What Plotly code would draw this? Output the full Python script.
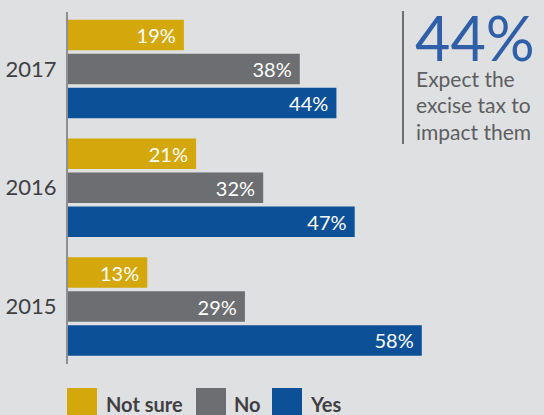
import plotly.graph_objects as go

# Survey responses by year (percent)
years = ["2015", "2016", "2017"]
not_sure = [13, 21, 19]
no = [29, 32, 38]
yes = [58, 47, 44]

series_names = ["Not sure", "No", "Yes"]
series_colors = ["#d4a70b", "#6d6e71", "#0c5198"]

headline_value = "44%"
headline_lines = ["Expect the", "excise tax to", "impact them"]

W, H = 544, 415
L, R, T, B = 68, 0, 12, 51
PW, PH = W - L - R, H - T - B
FONT = "Lato, 'Open Sans', sans-serif"


def px_x(px):
    return (px - L) / PW


def px_y(py):
    return (H - B - py) / PH


fig = go.Figure()

# Plotly stacks grouped horizontal bars bottom-up, so add Yes first
for name, vals, color in reversed(list(zip(series_names, [not_sure, no, yes], series_colors))):
    fig.add_trace(go.Bar(
        y=years,
        x=vals,
        name=name,
        orientation="h",
        marker=dict(color=color, line=dict(width=0)),
        text=[f"{v}%\u00a0" for v in vals],
        textposition="inside",
        insidetextanchor="end",
        textangle=0,
        insidetextfont=dict(family=FONT, size=20, color="white"),
        hoverinfo="skip",
        showlegend=False,
    ))

shapes = []
annotations = []

# Legend swatches and labels
legend_x = [(67, 104), (196, 232), (272, 308)]
for (sx, tx), name, color in zip(legend_x, series_names, series_colors):
    shapes.append(dict(
        type="rect", xref="paper", yref="paper",
        x0=px_x(sx), x1=px_x(sx + 30), y0=px_y(388), y1=px_y(420),
        fillcolor=color, line=dict(width=0), layer="above",
    ))
    annotations.append(dict(
        xref="paper", yref="paper", x=px_x(tx), y=px_y(404),
        xanchor="left", yanchor="middle", showarrow=False,
        text=f"<b>{name}</b>",
        font=dict(family=FONT, size=20, color="#3f4042"),
    ))

# Headline callout with a vertical rule
shapes.append(dict(
    type="line", xref="paper", yref="paper",
    x0=px_x(403), x1=px_x(403), y0=px_y(11), y1=px_y(144),
    line=dict(color="#6d6e71", width=2),
))
annotations.append(dict(
    xref="paper", yref="paper", x=px_x(413), y=px_y(37),
    xanchor="left", yanchor="middle", showarrow=False,
    text=headline_value,
    font=dict(family=FONT, size=61, color="#2f5fa8"),
))
for i, line in enumerate(headline_lines):
    annotations.append(dict(
        xref="paper", yref="paper", x=px_x(414), y=px_y(79 + 26 * i),
        xanchor="left", yanchor="middle", showarrow=False, align="left",
        text=line,
        font=dict(family=FONT, size=21, color="#5d5e60"),
    ))

fig.update_layout(
    width=W, height=H,
    margin=dict(l=L, r=R, t=T, b=B, pad=0),
    paper_bgcolor="#dfe0e2",
    plot_bgcolor="#dfe0e2",
    barmode="group",
    bargap=0.143,
    bargroupgap=0.1,
    shapes=shapes,
    annotations=annotations,
    xaxis=dict(range=[0, PW / 6.1], visible=False, fixedrange=True),
    yaxis=dict(
        type="category",
        categoryorder="array",
        categoryarray=years,
        range=[-0.484, 2.48],
        showline=True, linecolor="#8e8f92", linewidth=2,
        showgrid=False, zeroline=False, ticks="",
        ticklabelstandoff=5,
        tickfont=dict(family=FONT, size=22, color="#404042"),
        fixedrange=True,
    ),
    font=dict(family=FONT),
)

fig.write_html("out.html", config={"displayModeBar": False})
